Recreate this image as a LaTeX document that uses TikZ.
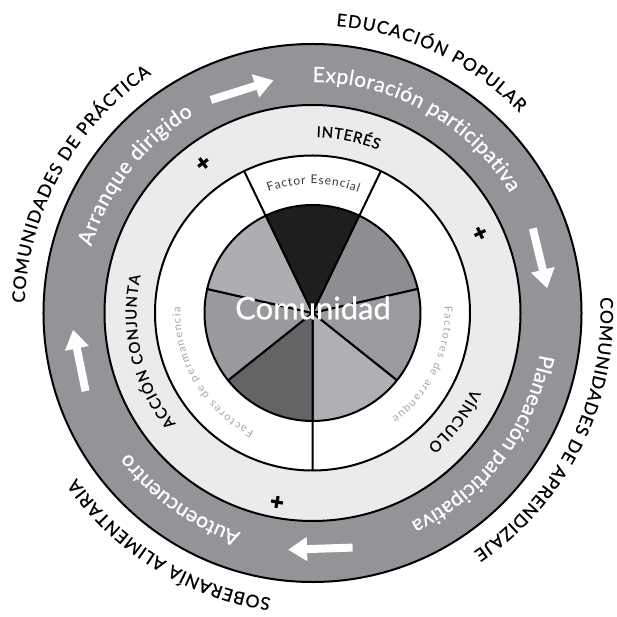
\documentclass[tikz,border=0pt]{standalone}
\usepackage{fontspec}
\setmainfont{Lato}
\newfontfamily\medfont{Lato}[FakeBold=0.8]
\usetikzlibrary{decorations.text,arrows.meta}
\definecolor{ringgray}{HTML}{939497}
\definecolor{lightring}{HTML}{EAEBEA}
\definecolor{wblack}{HTML}{1E1E1F}
\definecolor{wA}{HTML}{8D8E91}
\definecolor{wB}{HTML}{9A9B9E}
\definecolor{wC}{HTML}{AFB0B3}
\definecolor{wD}{HTML}{636466}
\definecolor{wE}{HTML}{999A9D}
\definecolor{wF}{HTML}{ADAEB1}
\definecolor{smalltext}{HTML}{A6A7AA}
\definecolor{esencial}{HTML}{3A3A3B}
% #1 radius, #2 start angle, #3 end angle, #4 font, #5 colour, #6 text
\newcommand\arclabel[6]{%
  \path[decorate,decoration={text along path,text align={fit to path},
    text color=#5,text={|#4|#6}}]
    (#2:#1pt) arc[start angle=#2,end angle=#3,radius=#1pt];}
\newcommand\fs[1]{\fontsize{#1}{#1}\selectfont}
\tikzset{
  ringline/.style={line width=2pt,draw=black},
  bigarrow/.style={line width=8pt,white,-{Triangle[width=23pt,length=19pt]}},
  plusmark/.pic={\draw[line width=3.2pt] (-6,0)--(6,0) (0,-6)--(0,6);}
}
\begin{document}
\begin{tikzpicture}[x=1pt,y=1pt]
\useasboundingbox (-312.5,-304) rectangle (303.5,313);
% rings
\filldraw[fill=ringgray,ringline] (0,0) circle[radius=269pt];
\filldraw[fill=lightring,ringline] (0,0) circle[radius=208pt];
\filldraw[fill=white,ringline] (0,0) circle[radius=157.5pt];
% wedges
\foreach \s/\e/\c in {64.29/115.71/wblack,12.86/64.29/wA,-38.57/12.86/wB,-90/-38.57/wC,-141.43/-90/wD,-192.86/-141.43/wE,-244.29/-192.86/wF}{
  \filldraw[fill=\c,ringline,line join=round] (0,0) -- (\s:108pt) arc[start angle=\s,end angle=\e,radius=108pt] -- cycle;
}
% radial separators in the white ring
\coordinate (p1a) at (115.71:108pt); \coordinate (p1b) at (115.71:157.5pt);
\coordinate (p2a) at (64.29:108pt);  \coordinate (p2b) at (64.29:157.5pt);
\coordinate (p3a) at (-90:108pt);    \coordinate (p3b) at (-90:157.5pt);
\draw[ringline] (p1a) -- (p1b) (p2a) -- (p2b) (p3a) -- (p3b);
% centre label
\node[text=white,font=\medfont\fs{31},inner sep=0pt] (comunidad) at (0.5,5) {Comunidad};
% outer labels
\arclabel{288}{85.3}{44.1}{\medfont\fs{17.5}}{black}{EDUCACIÓN POPULAR}
\arclabel{288}{3.1}{-56}{\medfont\fs{17.5}}{black}{COMUNIDADES DE APRENDIZAJE}
\arclabel{288}{-98.3}{-145}{\medfont\fs{17.5}}{black}{SOBERANÍA ALIMENTARIA}
\arclabel{288}{178}{124}{\medfont\fs{17.5}}{black}{COMUNIDADES DE PRÁCTICA}
% grey ring labels
\arclabel{231}{90}{31.3}{\medfont\fs{21}}{white}{Exploración participativa}
\arclabel{231}{163.3}{121}{\medfont\fs{21}}{white}{Arranque dirigido}
\arclabel{231}{-10.3}{-64.8}{\medfont\fs{21}}{white}{Planeación participativa}
\arclabel{231}{-108.1}{-142.1}{\medfont\fs{21}}{white}{Autoencuentro}
% light ring labels
\arclabel{176}{88.7}{68.1}{\medfont\fs{15}}{black}{INTERÉS}
\arclabel{176}{-25.5}{-49.2}{\medfont\fs{15}}{black}{VÍNCULO}
\arclabel{176}{219}{167.7}{\medfont\fs{15}}{black}{ACCIÓN CONJUNTA}
% white ring labels
\arclabel{129}{110}{69.2}{\fs{12}}{esencial}{Factor Esencial}
\arclabel{132}{3}{-53}{\fs{11}}{smalltext}{Factores de arranque}
\arclabel{132}{-116.2}{-182.6}{\fs{11}}{smalltext}{Factores de permanencia}
% arrows
\coordinate (a1s) at (115.5:236pt); \coordinate (a1e) at (99.5:236pt);
\coordinate (a2s) at (21:236pt);    \coordinate (a2e) at (6:236pt);
\coordinate (a3s) at (-80.3:238pt); \coordinate (a3e) at (-95.9:238pt);
\coordinate (a4s) at (-161:240pt);  \coordinate (a4e) at (-176:240pt);
\draw[bigarrow] (a1s) -- (a1e);
\draw[bigarrow] (a2s) -- (a2e);
\draw[bigarrow] (a3s) -- (a3e);
\draw[bigarrow] (a4s) -- (a4e);
% plus signs
\pic[rotate=36] at (-109.5,150) {plusmark};
\pic[rotate=25.5] at (167.5,80) {plusmark};
\pic[rotate=-10.6] at (-35.5,-189) {plusmark};
\end{tikzpicture}
\end{document}
